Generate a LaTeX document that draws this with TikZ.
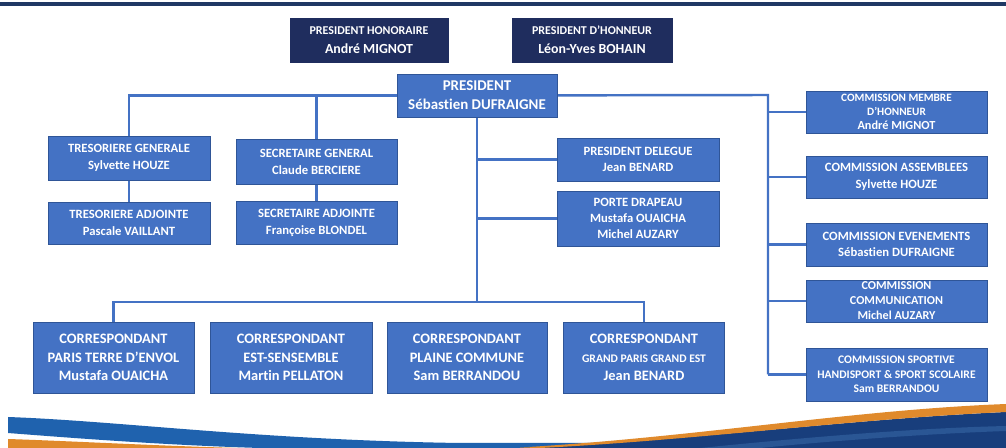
\documentclass[tikz,border=0pt]{standalone}
\usepackage{fontspec}
\setmainfont{Carlito}[Ligatures=CommonOff]
\usetikzlibrary{backgrounds}
\definecolor{boxblue}{HTML}{4472C4}
\definecolor{boxedge}{HTML}{2F5597}
\definecolor{navybox}{HTML}{1F2D5E}
\definecolor{topbar}{HTML}{1F3864}
\definecolor{linkblue}{HTML}{4472C4}
\definecolor{swblue}{HTML}{1F62AE}
\definecolor{swnavy}{HTML}{183E7C}
\definecolor{swnavyl}{HTML}{2A5694}
\definecolor{sworange}{HTML}{E08A2C}
\newcommand{\fs}[2]{\fontsize{#1}{#2}\selectfont}
\tikzset{
  bx/.style={draw=boxedge, line width=0.5pt, fill=boxblue, text=white, inner sep=0pt,
    align=center},
  nbx/.style={bx, fill=navybox, draw=navybox},
  link/.style={draw=linkblue, line width=1.4pt},
}
\begin{document}
\begin{tikzpicture}[x=0.02cm,y=-0.02cm]
\useasboundingbox (0,0) rectangle (1006,448);
% top boxes
\node[nbx, minimum width=3.16cm, minimum height=0.88cm, font=\bfseries\fs{6.8}{11}] (hon) at (369,40)
  {PRESIDENT HONORAIRE\\\fs{7.9}{11}André MIGNOT};
\node[nbx, minimum width=3.2cm, minimum height=0.88cm, font=\bfseries\fs{6.8}{11}] (dhon) at (592,40)
  {PRESIDENT D’HONNEUR\\\fs{7.9}{11}Léon-Yves BOHAIN};
\node[bx, minimum width=3.2cm, minimum height=0.86cm, font=\bfseries\fs{8.5}{10.8}] (pres) at (477,95.5)
  {PRESIDENT\\Sébastien DUFRAIGNE};
% left
\node[bx, minimum width=3.24cm, minimum height=0.88cm, font=\bfseries\fs{7.2}{9.6}] (tg) at (129,158)
  {TRESORIERE GENERALE\\Sylvette HOUZE};
\node[bx, minimum width=3.24cm, minimum height=0.84cm, font=\bfseries\fs{7.2}{9.6}] (ta) at (129,223)
  {TRESORIERE ADJOINTE\\Pascale VAILLANT};
\node[bx, minimum width=3.22cm, minimum height=0.9cm, font=\bfseries\fs{7.2}{9.6}] (sg) at (316.5,162)
  {SECRETAIRE GENERAL\\Claude BERCIERE};
\node[bx, minimum width=3.22cm, minimum height=0.86cm, font=\bfseries\fs{7.2}{9.6}] (sa) at (316.5,222.5)
  {SECRETAIRE ADJOINTE\\Françoise BLONDEL};
% centre
\node[bx, minimum width=3.24cm, minimum height=0.86cm, font=\bfseries\fs{7.2}{9}] (pd) at (638,159.5)
  {PRESIDENT DELEGUE\\Jean BENARD};
\node[bx, minimum width=3.24cm, minimum height=1.1cm, font=\bfseries\fs{7.2}{8.9}] (pdr) at (638,218.5)
  {PORTE DRAPEAU\\Mustafa OUAICHA\\Michel AUZARY};
% correspondants
\node[bx, minimum width=3.22cm, minimum height=1.42cm, font=\bfseries\fs{8.2}{10.6}] (c1) at (113.5,357.5)
  {CORRESPONDANT\\PARIS TERRE D’ENVOL\\Mustafa OUAICHA};
\node[bx, minimum width=3.24cm, minimum height=1.42cm, font=\bfseries\fs{8.2}{10.6}] (c2) at (291,357.5)
  {CORRESPONDANT\\EST-SENSEMBLE\\Martin PELLATON};
\node[bx, minimum width=3.2cm, minimum height=1.42cm, font=\bfseries\fs{8.2}{10.6}] (c3) at (467,357.5)
  {CORRESPONDANT\\PLAINE COMMUNE\\Sam BERRANDOU};
\node[bx, minimum width=3.22cm, minimum height=1.42cm, font=\bfseries\fs{8.2}{10.6}] (c4) at (644,357.5)
  {CORRESPONDANT\\\fs{6.6}{10.6}GRAND PARIS GRAND EST\\Jean BENARD};
% commissions
\node[bx, minimum width=3.62cm, minimum height=0.84cm, font=\bfseries\fs{6.4}{8}] (cm1) at (896.5,112)
  {COMMISSION MEMBRE\\D’HONNEUR\\\fs{7}{8.4}André MIGNOT};
\node[bx, minimum width=3.62cm, minimum height=0.84cm, font=\bfseries\fs{7.2}{9.4}] (cm2) at (896.5,177)
  {COMMISSION ASSEMBLEES\\Sylvette HOUZE};
\node[bx, minimum width=3.62cm, minimum height=0.86cm, font=\bfseries\fs{7.2}{9.4}] (cm3) at (896.5,244.5)
  {COMMISSION EVENEMENTS\\Sébastien DUFRAIGNE};
\node[bx, minimum width=3.62cm, minimum height=0.84cm, font=\bfseries\fs{6.9}{8.5}] (cm4) at (896.5,301)
  {COMMISSION\\COMMUNICATION\\Michel AUZARY};
\node[bx, minimum width=3.62cm, minimum height=1.06cm, font=\bfseries\fs{6.6}{8.2}] (cm5) at (896.5,374.5)
  {COMMISSION SPORTIVE\\HANDISPORT \& SPORT SCOLAIRE\\Sam BERRANDOU};
\coordinate (trunk) at (768,95);
\coordinate (hub) at (477,302);
\begin{scope}[on background layer]
  \fill[white] (0,0) rectangle (1006,448);
  \fill[topbar] (0,2.5) rectangle (1006,6.5);
  % connectors
  \draw[link] (tg.north) |- (pres.center);
  \draw[link] (sg.north) |- (pres.center);
  \draw[link] (pres.center) -- (trunk) -- (trunk |- cm5.west);
  \draw[link] (tg.south) -- (ta.north);
  \draw[link] (sg.south) -- (sa.north);
  \draw[link] (pres.south) -- (hub);
  \draw[link] (hub |- pd.west) -- (pd.west);
  \draw[link] (hub |- pdr.west) -- (pdr.west);
  \draw[link] (c1.north) |- (hub) -| (c4.north);
  \draw[link] (trunk |- cm1.west) -- (cm1.west);
  \draw[link] (trunk |- cm2.west) -- (cm2.west);
  \draw[link] (trunk |- cm3.west) -- (cm3.west);
  \draw[link] (trunk |- cm4.west) -- (cm4.west);
  \draw[link] (trunk |- cm5.west) -- (cm5.west);
  % bottom swoosh
  \fill[sworange] (8,439) .. controls (70,441) and (160,446) .. (240,448) -- (8,448) -- cycle;
  \fill[swblue] (8,417) .. controls (120,421) and (260,440) .. (460,443) -- (1006,443) -- (1006,448)
     -- (260,448) .. controls (160,445) and (60,437) .. (8,433) -- cycle;
  \fill[swnavy] (520,448) .. controls (700,440) and (850,419) .. (1006,412) -- (1006,448) -- cycle;
  \fill[swnavyl] (700,448) .. controls (820,436) and (920,428) .. (1006,426) -- (1006,431)
     .. controls (920,434) and (820,442) .. (760,448) -- cycle;
  \fill[sworange] (520,447.5) .. controls (700,437) and (850,410) .. (1006,404) -- (1006,412)
     .. controls (850,419) and (700,440) .. (540,448) -- cycle;
\end{scope}
\end{tikzpicture}
\end{document}
